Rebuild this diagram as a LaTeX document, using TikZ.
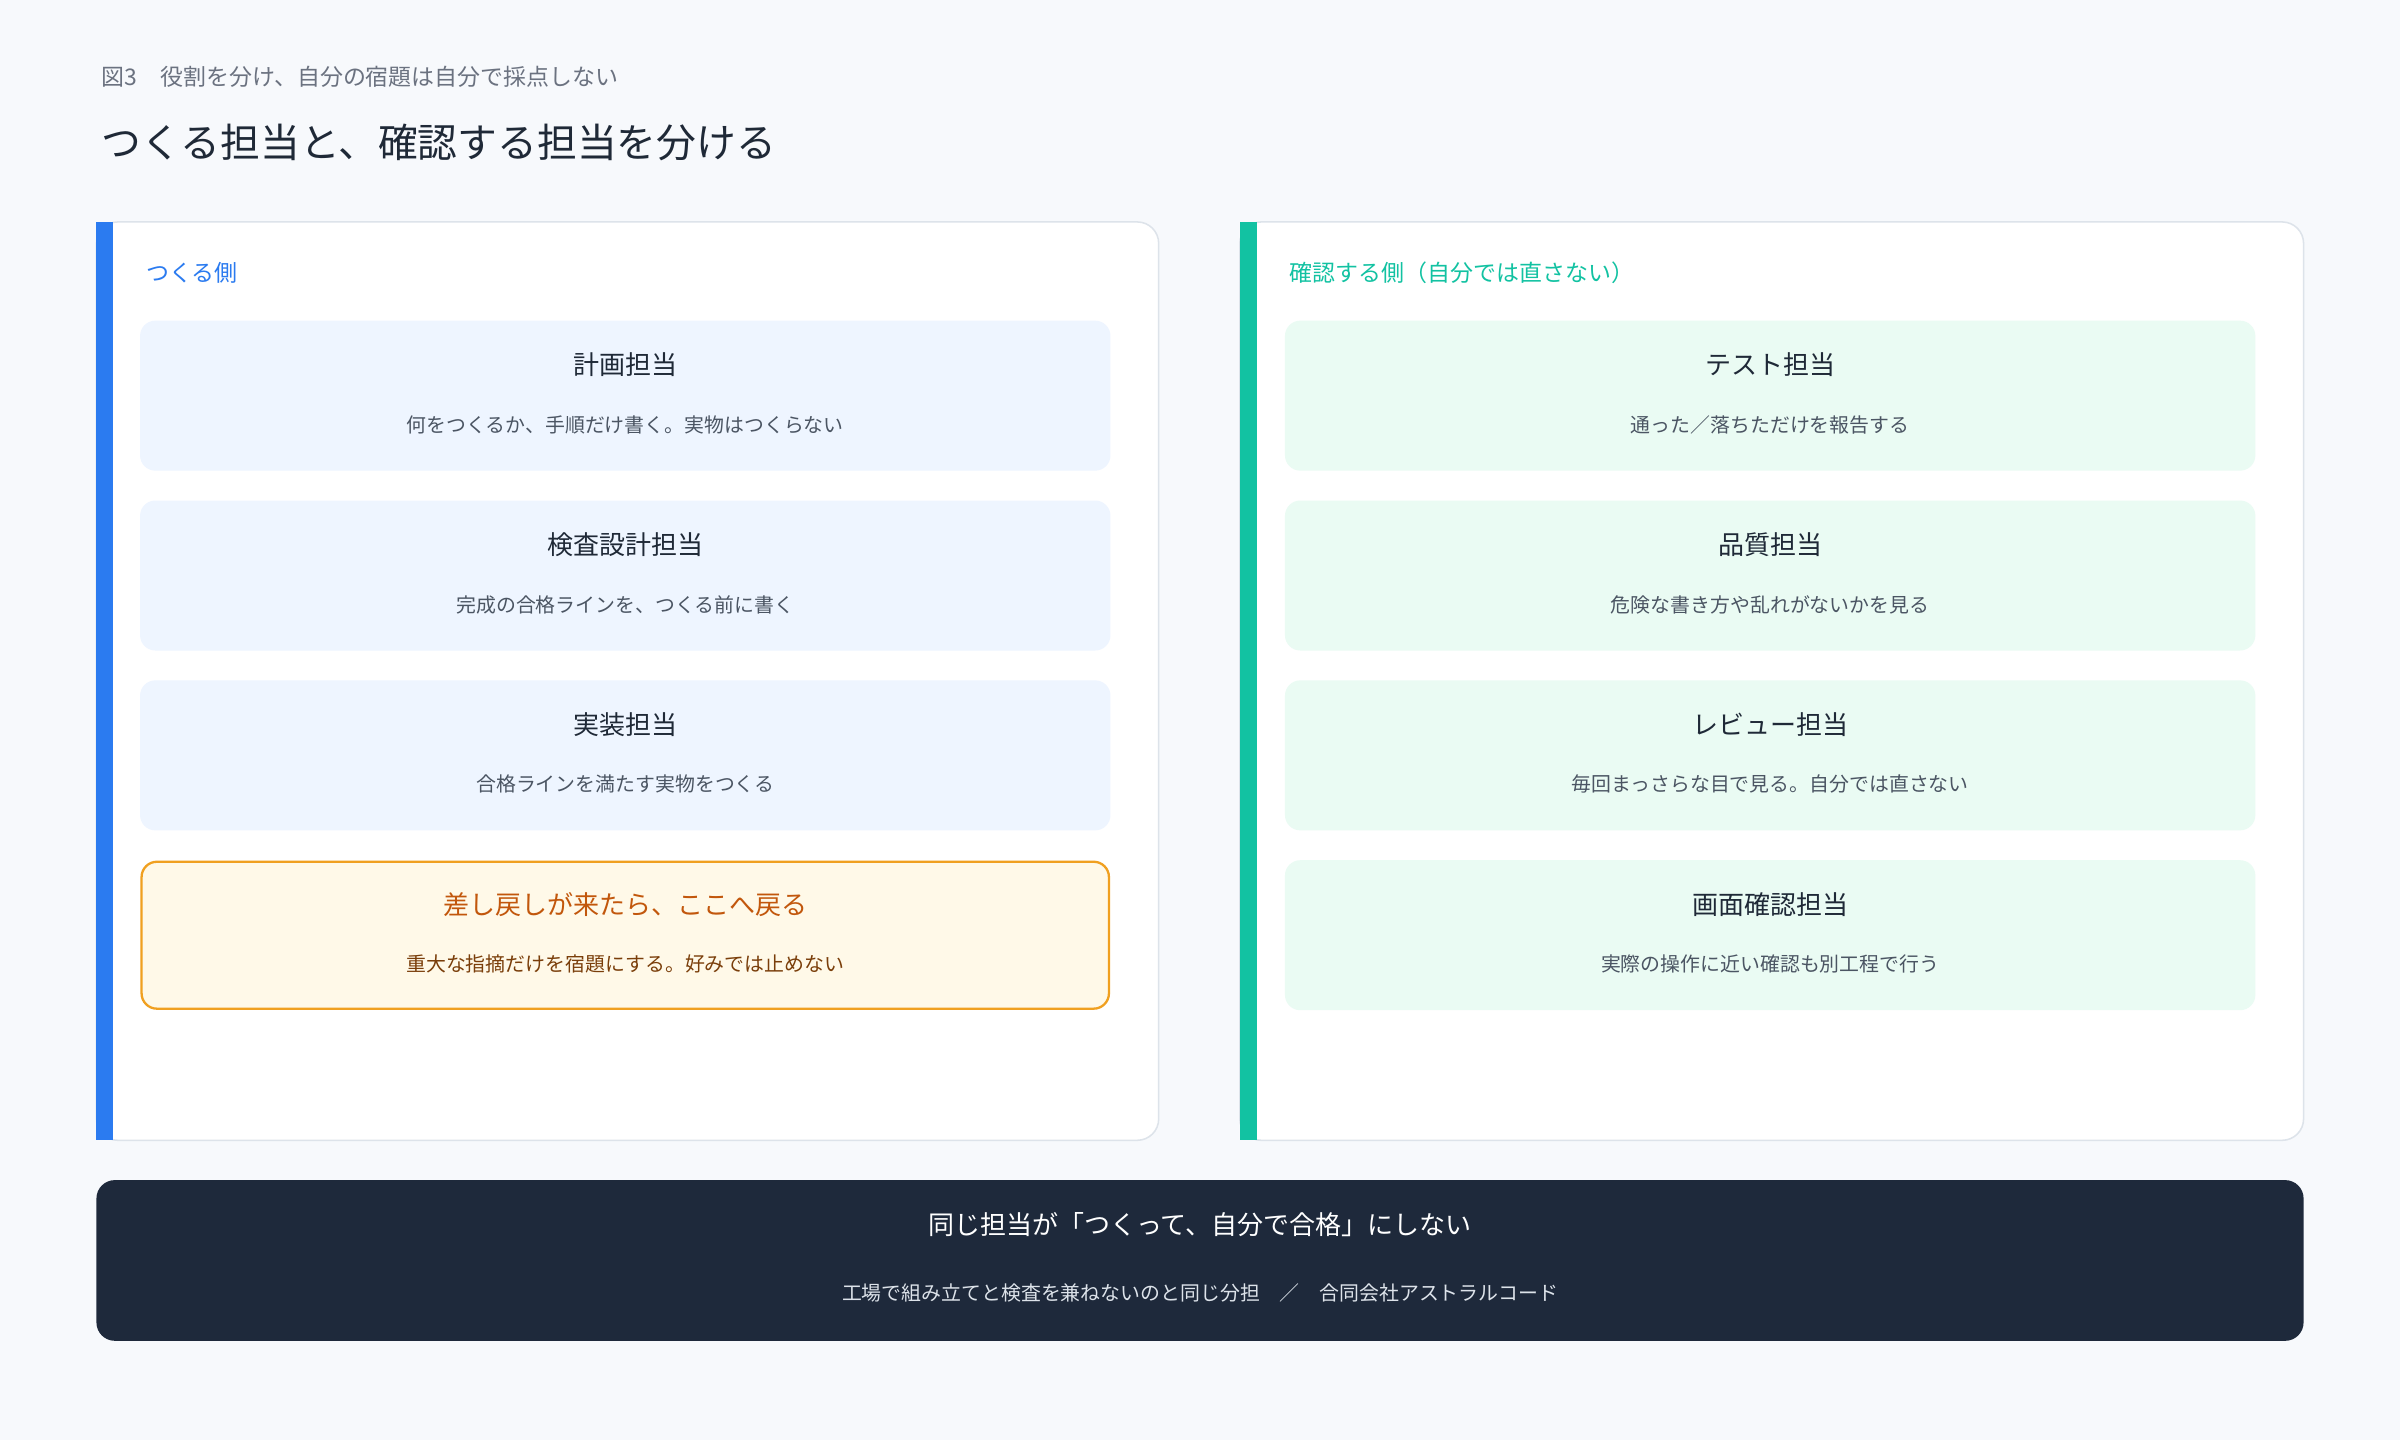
\documentclass[tikz,border=0pt]{standalone}
\usepackage{fontspec}
\setmainfont{Noto Sans CJK JP}
\definecolor{bg}{HTML}{F7F9FC}
\definecolor{blueb}{HTML}{2B7BF0}
\definecolor{greenb}{HTML}{12C2A2}
\definecolor{lcard}{HTML}{EEF5FF}
\definecolor{rcard}{HTML}{EAFBF3}
\definecolor{ofill}{HTML}{FFF9E8}
\definecolor{oborder}{HTML}{F0A020}
\definecolor{otitle}{HTML}{C2570C}
\definecolor{osub}{HTML}{7A3E0A}
\definecolor{dark}{HTML}{1E293B}
\definecolor{txt}{HTML}{1F2937}
\definecolor{sub}{HTML}{4B5563}
\definecolor{hdr}{HTML}{6B7280}
\definecolor{pborder}{HTML}{DDE3EA}
\begin{document}
\begin{tikzpicture}[x=1pt,y=-1pt,
 panel/.style={draw=pborder,line width=1pt,fill=white,rounded corners=14pt},
 card/.style={rounded corners=10pt,minimum width=634pt,minimum height=98pt,inner sep=0pt},
 ctitle/.style={font=\fontsize{17}{20}\selectfont,text=txt},
 csub/.style={font=\fontsize{13}{16}\selectfont,text=sub}]
\fill[bg] (0,0) rectangle (1568,941);
\useasboundingbox (0,0) rectangle (1568,941);
\node[anchor=west,font=\fontsize{15}{18}\selectfont,text=hdr] (hd) at (63,50) {図3\quad 役割を分け、自分の宿題は自分で採点しない};
\node[anchor=west,font=\fontsize{26}{30}\selectfont,text=txt] (tt) at (63,93) {つくる担当と、確認する担当を分ける};
% panels
\draw[panel] (63,145) rectangle (757,745);
\fill[blueb] (63,145) rectangle (74,745);
\draw[panel] (810,145) rectangle (1505,745);
\fill[greenb] (810,145) rectangle (821,745);
\node[anchor=west,font=\fontsize{15}{18}\selectfont,text=blueb] (lh) at (92,178) {つくる側};
\node[anchor=west,font=\fontsize{15}{18}\selectfont,text=greenb] (rh) at (839,178) {確認する側（自分では直さない）};
% left cards
\foreach \n/\y/\t/\s in {l1/258.5/計画担当/何をつくるか、手順だけ書く。実物はつくらない,
 l2/376/検査設計担当/完成の合格ラインを、つくる前に書く,
 l3/493.5/実装担当/合格ラインを満たす実物をつくる}{
 \node[card,fill=lcard] (\n) at (408.5,\y) {};
 \node[ctitle] (\n t) at (408.5,\y-20) {\t};
 \node[csub] (\n s) at (408.5,\y+19) {\s};
}
\node[card,fill=ofill,draw=oborder,line width=1.5pt,minimum width=632pt,minimum height=96pt] (l4) at (408.5,611) {};
\node[font=\fontsize{17}{20}\selectfont,text=otitle] (l4t) at (408.5,591) {差し戻しが来たら、ここへ戻る};
\node[font=\fontsize{13}{16}\selectfont,text=osub] (l4s) at (408.5,630) {重大な指摘だけを宿題にする。好みでは止めない};
% right cards
\foreach \n/\y/\t/\s in {r1/258.5/テスト担当/通った／落ちただけを報告する,
 r2/376/品質担当/危険な書き方や乱れがないかを見る,
 r3/493.5/レビュー担当/毎回まっさらな目で見る。自分では直さない,
 r4/611/画面確認担当/実際の操作に近い確認も別工程で行う}{
 \node[card,fill=rcard] (\n) at (1156.5,\y) {};
 \node[ctitle] (\n t) at (1156.5,\y-20) {\t};
 \node[csub] (\n s) at (1156.5,\y+19) {\s};
}
% bottom bar
\fill[dark,rounded corners=12pt] (63,771) rectangle (1505,876);
\node[font=\fontsize{17}{20}\selectfont,text=white] (bt) at (784,800) {同じ担当が「つくって、自分で合格」にしない};
\node[font=\fontsize{13}{16}\selectfont,text=pborder] (bs) at (784,845) {工場で組み立てと検査を兼ねないのと同じ分担\quad ／\quad 合同会社アストラルコード};
\end{tikzpicture}
\end{document}
